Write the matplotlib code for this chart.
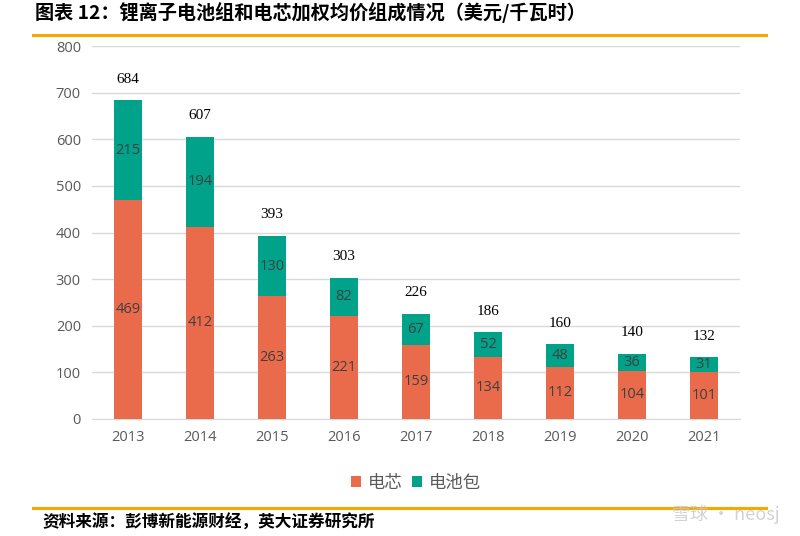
import matplotlib
matplotlib.use('Agg')
import matplotlib.pyplot as plt
import numpy as np

plt.rcParams['font.family'] = ['Noto Sans CJK SC', 'DejaVu Sans']

years = ['2013', '2014', '2015', '2016', '2017', '2018', '2019', '2020', '2021']
cell = [469, 412, 263, 221, 159, 134, 112, 104, 101]
pack = [215, 194, 130, 82, 67, 52, 48, 36, 31]
total = [684, 607, 393, 303, 226, 186, 160, 140, 132]

c_cell = '#EA6A4C'
c_pack = '#00A28A'

fig = plt.figure(figsize=(8, 5.36), dpi=100)
ax = fig.add_axes([0.115, 0.2183, 0.81, 0.6957])

x = np.arange(len(years))
w = 0.4
b1 = ax.bar(x, cell, w, color=c_cell, label='电芯', zorder=3)
b2 = ax.bar(x, pack, w, bottom=cell, color=c_pack, label='电池包', zorder=3)

for i in range(len(years)):
    ax.text(x[i], cell[i] / 2, str(cell[i]), ha='center', va='center',
            fontsize=10.5, color='#404040', family=['Open Sans', 'DejaVu Sans'], zorder=4)
    ax.text(x[i], cell[i] + pack[i] / 2, str(pack[i]), ha='center', va='center',
            fontsize=10.5, color='#404040', family=['Open Sans', 'DejaVu Sans'], zorder=4)
    ax.annotate(str(total[i]), (x[i], total[i]), xytext=(0, 15), textcoords='offset points',
                ha='center', va='center', fontsize=11, color='black',
                family=['Liberation Serif'])

ax.set_xlim(-0.5, 8.5)
ax.set_ylim(0, 800)
ax.set_yticks(range(0, 801, 100))
ax.set_xticks(x)
ax.set_xticklabels(years)
ax.grid(axis='y', color='#D9D9D9', linewidth=1, zorder=0)
for s in ['top', 'right', 'left']:
    ax.spines[s].set_visible(False)
ax.spines['bottom'].set_color('#D9D9D9')
ax.tick_params(length=0, labelsize=10.5, colors='#595959', pad=8)
for lab in ax.get_xticklabels() + ax.get_yticklabels():
    lab.set_family(['Open Sans', 'DejaVu Sans'])

leg = ax.legend(loc='upper center', bbox_to_anchor=(0.5, -0.105), ncol=2, frameon=False,
                fontsize=12.5, handlelength=0.6, handleheight=0.6, handletextpad=0.4,
                columnspacing=0.5)
for t in leg.get_texts():
    t.set_color('#595959')

fig.text(0.044, 0.977, '图表 12：锂离子电池组和电芯加权均价组成情况（美元/千瓦时）',
         fontsize=13.8, fontweight='bold', va='center', ha='left', color='black')
fig.add_artist(plt.Line2D([0.041, 0.958], [0.935, 0.935], color='#F5A800', linewidth=2.2))
fig.add_artist(plt.Line2D([0.041, 0.958], [0.052, 0.052], color='#F5A800', linewidth=2.2))
fig.text(0.053, 0.024, '资料来源：彭博新能源财经，英大证券研究所', fontsize=12,
         fontweight='bold', va='center', ha='left', color='black')
fig.text(0.975, 0.04, '雪球 · neosj', fontsize=13, color='#C8C8C8', ha='right', va='center',
         alpha=0.8)

fig.savefig('out.png', dpi=100)
